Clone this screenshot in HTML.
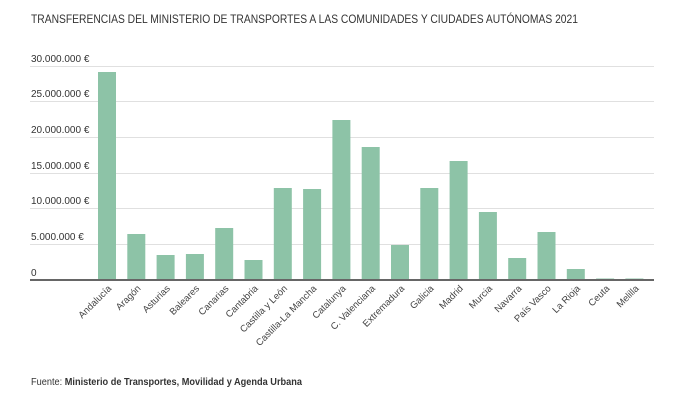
<!DOCTYPE html>
<html><head><meta charset="utf-8"><style>
html,body{margin:0;padding:0;background:#fff;}
svg{display:block;font-family:"Liberation Sans",sans-serif;}
</style></head><body>
<svg width="681" height="408" viewBox="0 0 681 408">
<text x="31" y="23" font-size="12" fill="#333" textLength="547" lengthAdjust="spacingAndGlyphs">TRANSFERENCIAS DEL MINISTERIO DE TRANSPORTES A LAS COMUNIDADES Y CIUDADES AUTÓNOMAS 2021</text>
<g stroke="#e0e0e0" stroke-width="1">
<line x1="30" x2="654" y1="66.5" y2="66.5"/>
<line x1="30" x2="654" y1="101.5" y2="101.5"/>
<line x1="30" x2="654" y1="137.5" y2="137.5"/>
<line x1="30" x2="654" y1="173.5" y2="173.5"/>
<line x1="30" x2="654" y1="208.5" y2="208.5"/>
<line x1="30" x2="654" y1="244.5" y2="244.5"/>
</g>
<g font-size="10" fill="#333">
<text x="31" y="62">30.000.000 €</text>
<text x="31" y="97">25.000.000 €</text>
<text x="31" y="133">20.000.000 €</text>
<text x="31" y="169">15.000.000 €</text>
<text x="31" y="204">10.000.000 €</text>
<text x="31" y="240">5.000.000 €</text>
<text x="31" y="276">0</text>
</g>
<g fill="#8dc3a7">
<rect x="98" y="72" width="18" height="208"/>
<rect x="127.3" y="234" width="18" height="46"/>
<rect x="156.6" y="255" width="18" height="25"/>
<rect x="185.9" y="254" width="18" height="26"/>
<rect x="215.2" y="228" width="18" height="52"/>
<rect x="244.5" y="260" width="18" height="20"/>
<rect x="273.8" y="188" width="18" height="92"/>
<rect x="303.1" y="189" width="18" height="91"/>
<rect x="332.4" y="120" width="18" height="160"/>
<rect x="361.7" y="147" width="18" height="133"/>
<rect x="391" y="245" width="18" height="35"/>
<rect x="420.3" y="188" width="18" height="92"/>
<rect x="449.6" y="161" width="18" height="119"/>
<rect x="478.9" y="212" width="18" height="68"/>
<rect x="508.2" y="258" width="18" height="22"/>
<rect x="537.5" y="232" width="18" height="48"/>
<rect x="566.8" y="269" width="18" height="11"/>
<rect x="596.1" y="278.5" width="18" height="1.5"/>
<rect x="625.4" y="278.5" width="18" height="1.5"/>
</g>
<line x1="30" x2="654" y1="280" y2="280" stroke="#666" stroke-width="2"/>
<g font-size="9.5" fill="#444" text-anchor="end">
<text transform="translate(112,289) rotate(-45)">Andalucía</text>
<text transform="translate(141.3,289) rotate(-45)">Aragón</text>
<text transform="translate(170.6,289) rotate(-45)">Asturias</text>
<text transform="translate(199.9,289) rotate(-45)">Baleares</text>
<text transform="translate(229.2,289) rotate(-45)">Canarias</text>
<text transform="translate(258.5,289) rotate(-45)">Cantabria</text>
<text transform="translate(287.8,289) rotate(-45)">Castilla y León</text>
<text transform="translate(317.1,289) rotate(-45)">Castilla-La Mancha</text>
<text transform="translate(346.4,289) rotate(-45)">Catalunya</text>
<text transform="translate(375.7,289) rotate(-45)">C. Valenciana</text>
<text transform="translate(405,289) rotate(-45)">Extremadura</text>
<text transform="translate(434.3,289) rotate(-45)">Galicia</text>
<text transform="translate(463.6,289) rotate(-45)">Madrid</text>
<text transform="translate(492.9,289) rotate(-45)">Murcia</text>
<text transform="translate(522.2,289) rotate(-45)">Navarra</text>
<text transform="translate(551.5,289) rotate(-45)">País Vasco</text>
<text transform="translate(580.8,289) rotate(-45)">La Rioja</text>
<text transform="translate(610.1,289) rotate(-45)">Ceuta</text>
<text transform="translate(639.4,289) rotate(-45)">Melilla</text>
</g>
<text x="31" y="385" font-size="10" fill="#333" textLength="271" lengthAdjust="spacingAndGlyphs">Fuente: <tspan font-weight="bold">Ministerio de Transportes, Movilidad y Agenda Urbana</tspan></text>
</svg>
</body></html>
